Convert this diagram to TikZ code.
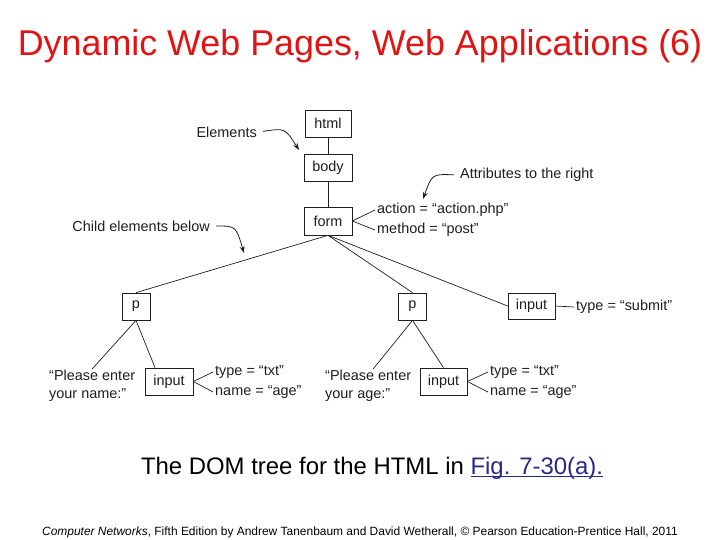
\documentclass[tikz,border=0pt]{standalone}
\usepackage{fontspec}
\setmainfont{Liberation Sans}
\usetikzlibrary{arrows.meta}
\definecolor{titlered}{RGB}{225,20,20}
\definecolor{linkblue}{RGB}{40,40,140}
\definecolor{ink}{RGB}{30,30,30}
\newsavebox\myulbox
\newcommand\myul[1]{\sbox\myulbox{#1}\rlap{\rule[-2.5bp]{\wd\myulbox}{1.1bp}}\usebox\myulbox}
\begin{document}
\begin{tikzpicture}[x=1bp,y=-1bp,
  lbl/.style={font=\fontsize{14.5}{18}\selectfont, text=ink, inner sep=2bp},
  box/.style={lbl, draw=ink, line width=0.7bp, inner sep=0pt, minimum height=27bp},
  edge/.style={draw=ink, line width=0.7bp},
  callout/.style={draw=ink, line width=0.8bp, shorten <=4bp, -{Stealth[length=7bp,width=5bp]}}]
\useasboundingbox (0,0) rectangle (720,540);
% title
\node[text=titlered, font=\fontsize{36}{40}\selectfont] (title) at (360,46) {Dynamic Web Pages, Web Applications (6)};
% boxes
\node[box, minimum width=46bp] (html) at (328,123.5) {html};
\node[box, minimum width=48bp] (body) at (328,168) {body};
\node[box, minimum width=48bp, minimum height=28bp] (form) at (328,221) {form};
\node[box, minimum width=28bp] (p1) at (136,306.5) {p};
\node[box, minimum width=28bp] (p2) at (412.5,306.5) {p};
\node[box, minimum width=47bp, minimum height=26bp] (ins) at (531.5,306) {input};
\node[box, minimum width=48bp] (in1) at (169,381.5) {input};
\node[box, minimum width=47bp] (in2) at (443.5,381.5) {input};
% attribute texts
\node[lbl, anchor=west] (act) at (375,210) {action = “action.php”};
\node[lbl, anchor=west] (meth) at (375,230) {method = “post”};
\node[lbl, anchor=west] (typs) at (574,307) {type = “submit”};
\node[lbl, anchor=west] (t1) at (213,372) {type = “txt”};
\node[lbl, anchor=west] (n1) at (213,392) {name = “age”};
\node[lbl, anchor=west] (t2) at (488,372) {type = “txt”};
\node[lbl, anchor=west] (n2) at (488,392) {name = “age”};
% text leaves
\node[lbl, align=left, anchor=north west, inner sep=1bp] (pl1) at (48,369) {“Please enter\\your name:”};
\node[lbl, align=left, anchor=north west, inner sep=1bp] (pl2) at (324,369) {“Please enter\\your age:”};
% callout labels
\node[lbl, anchor=east] (elem) at (259,132) {Elements};
\node[lbl, anchor=west] (attr) at (458,175) {Attributes to the right};
\node[lbl, anchor=east] (child) at (212,226) {Child elements below};
\coordinate (elemtip) at (299,150);
\coordinate (attrtip) at (423,199);
\coordinate (childtip) at (244,253);
% tree edges
\draw[edge] (html) -- (body);
\draw[edge] (body) -- (form);
\draw[edge] (form.south) -- (p1.north);
\draw[edge] (form.south) -- (p2.north);
\draw[edge] (form.south) -- (ins.west);
\draw[edge] (p1.south) -- (pl1.north);
\draw[edge] (p1.south) -- ([xshift=-14bp]in1.north);
\draw[edge] (p2.south) -- ([xshift=5bp]pl2.north);
\draw[edge] (p2.south) -- (in2.north);
% attribute edges
\draw[edge] (form.east) -- (act.west);
\draw[edge] (form.east) -- (meth.west);
\draw[edge] (ins.east) -- (typs.west);
\draw[edge] (in1.east) -- (t1.west);
\draw[edge] (in1.east) -- (n1.west);
\draw[edge] (in2.east) -- (t2.west);
\draw[edge] (in2.east) -- (n2.west);
% callout arrows
\draw[callout] (elem.east) .. controls (285,128) .. (elemtip);
\draw[callout] (attr.west) .. controls (432,174) .. (attrtip);
\draw[callout] (child.east) .. controls (236,226) .. (childtip);
% caption
\node[font=\fontsize{24}{28}\selectfont] (cap) at (372,468) {The DOM tree for the HTML in \textcolor{linkblue}{\myul{Fig. 7-30(a).}}};
\node[font=\fontsize{12}{14}\selectfont] (foot) at (360,532) {\textit{Computer Networks}, Fifth Edition by Andrew Tanenbaum and David Wetherall, © Pearson Education-Prentice Hall, 2011};
\end{tikzpicture}
\end{document}
